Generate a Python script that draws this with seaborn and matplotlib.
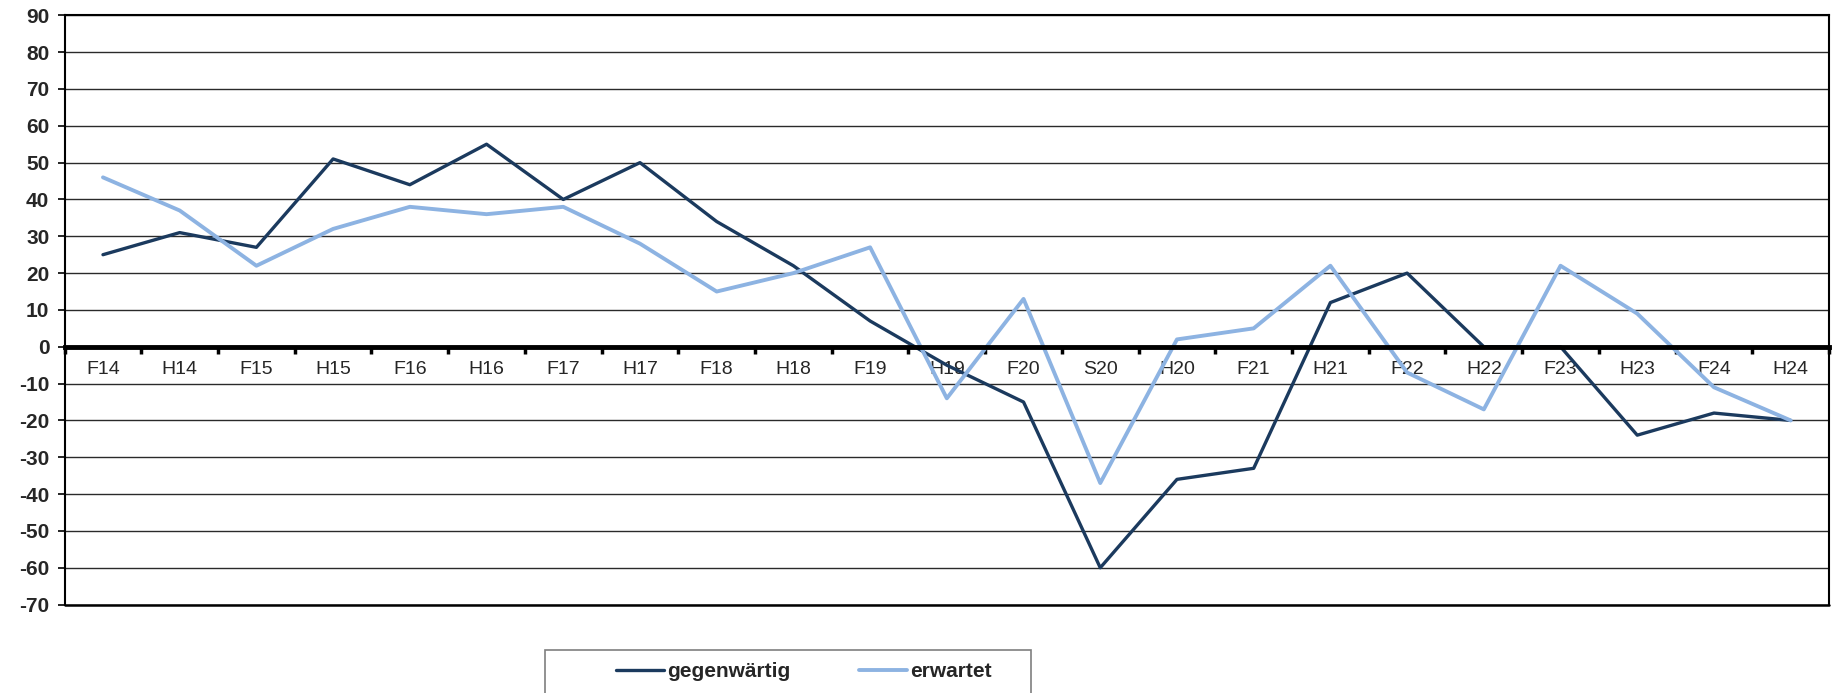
import pandas as pd
import numpy as np
import matplotlib.pyplot as plt
import seaborn as sns
from matplotlib.lines import Line2D
from matplotlib.patches import Rectangle

# Daten
perioden = ['F14', 'H14', 'F15', 'H15', 'F16', 'H16', 'F17', 'H17', 'F18', 'H18',
            'F19', 'H19', 'F20', 'S20', 'H20', 'F21', 'H21', 'F22', 'H22', 'F23',
            'H23', 'F24', 'H24']
gegenwaertig = [25, 31, 27, 51, 44, 55, 40, 50, 34, 22,
                7, -5, -15, -60, -36, -33, 12, 20, 0, 0,
                -24, -18, -20]
erwartet = [46, 37, 22, 32, 38, 36, 38, 28, 15, 20,
            27, -14, 13, -37, 2, 5, 22, -7, -17, 22,
            9, -11, -20]
y_ticks = list(range(-70, 91, 10))

farben = {'gegenwärtig': '#1B3A5E', 'erwartet': '#8DB3E2'}
breiten = {'gegenwärtig': 2.4, 'erwartet': 2.8}

n = len(perioden)
df = pd.DataFrame({
    'Periode': perioden * 2,
    'Wert': gegenwaertig + erwartet,
    'Reihe': ['gegenwärtig'] * n + ['erwartet'] * n,
})

sns.set_style('white')
plt.rcParams['font.family'] = ['Liberation Sans', 'DejaVu Sans']
plt.rcParams['axes.unicode_minus'] = False

fig = plt.figure(figsize=(18.41, 6.93), dpi=100)
ax = fig.add_axes([0.0351, 0.1276, 0.9584, 0.8503])

# Gitterlinien zuerst
ax.set_axisbelow(True)
ax.yaxis.grid(True, color='#2a2a2a', linewidth=1.0)

sns.lineplot(data=df, x='Periode', y='Wert', hue='Reihe', palette=farben,
             sort=False, ax=ax, legend=False)
for linie, name in zip(ax.lines, ['gegenwärtig', 'erwartet']):
    linie.set_linewidth(breiten[name])

ax.set_xlim(-0.5, n - 0.5)
ax.set_ylim(-70, 90)
ax.set_yticks(y_ticks)
ax.set_xlabel('')
ax.set_ylabel('')

# Nulllinie als x-Achse
ax.spines['bottom'].set_position(('data', 0))
ax.spines['bottom'].set_linewidth(3.5)
for s in ['top', 'right', 'left']:
    ax.spines[s].set_linewidth(1.5)
    ax.spines[s].set_color('black')
ax.spines['bottom'].set_color('black')
ax.axhline(-70, color='black', linewidth=1.8, clip_on=False)

# Striche zwischen den Kategorien, Beschriftung in der Mitte
ax.set_xticks(np.arange(-0.5, n, 1))
ax.set_xticklabels([])
ax.set_xticks(range(n), minor=True)
ax.set_xticklabels(perioden, minor=True)
ax.tick_params(axis='x', which='major', length=5, width=2.5, direction='out',
               color='black', bottom=True)
ax.tick_params(axis='x', which='minor', length=0, pad=10.5, labelsize=14)

ax.tick_params(axis='y', length=5, width=1.2, direction='out', color='black',
               left=True, pad=6, labelsize=15)
for lab in ax.get_yticklabels():
    lab.set_fontweight('bold')

# Legende unten
handles = [Line2D([], [], color=farben[k], linewidth=breiten[k]) for k in farben]
fig.legend(handles, list(farben.keys()), loc='center left',
           bbox_to_anchor=(0.329, 0.031), ncol=2, frameon=False,
           borderpad=0, handlelength=2.3, handletextpad=0.15,
           columnspacing=3.3, prop={'weight': 'bold', 'size': 15})
fig.add_artist(Rectangle((545 / 1841, -0.05), (1031 - 545) / 1841,
                         0.05 + 43 / 693, transform=fig.transFigure,
                         fill=False, edgecolor='#7f7f7f', linewidth=1.2))

fig.savefig('out.png', dpi=100)
